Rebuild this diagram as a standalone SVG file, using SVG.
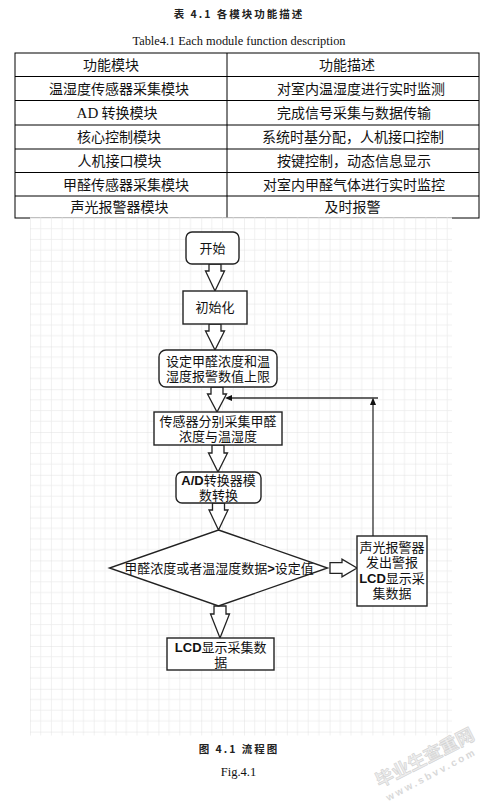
<svg xmlns="http://www.w3.org/2000/svg" width="492" height="806" viewBox="0 0 492 806">
<style>
.cap{font-family:"Noto Sans CJK SC","Noto Sans",sans-serif;font-weight:bold;font-size:10.5px;fill:#222;letter-spacing:2px}
.ser{font-family:"Liberation Serif","Times New Roman",serif;fill:#111}
.tb{font-family:"Noto Sans CJK SC","Noto Sans",sans-serif;font-size:14px;fill:#111;text-anchor:middle}
.tl{stroke:#000;stroke-width:1;fill:none}
.nd{fill:#fff;stroke:#222;stroke-width:1.4}
.nt{font-family:"Liberation Sans","Noto Sans CJK SC",sans-serif;font-size:13px;fill:#111;text-anchor:middle}
.b{font-family:"Liberation Sans",Arial,sans-serif;font-weight:bold}
.ba{fill:#fff;stroke:#222;stroke-width:1.3;stroke-linejoin:miter}
.ln{stroke:#333;stroke-width:1.3;fill:none}
.ah{fill:#111}
.wm{font-family:"Noto Sans CJK SC",sans-serif;font-weight:bold;fill:#ededed;stroke:#d2d2d2;stroke-width:0.6}
</style>
<defs>
<pattern id="grid" x="30" y="218" width="42.8" height="42.8" patternUnits="userSpaceOnUse">
<path d="M10.7 0V42.8M21.4 0V42.8M32.1 0V42.8M0 10.7H42.8M0 21.4H42.8M0 32.1H42.8" stroke="#ececec" stroke-width="0.8" fill="none"/>
<path d="M0 0V42.8M0 0H42.8" stroke="#dedede" stroke-width="0.9" fill="none"/>
</pattern>
</defs>
<rect width="492" height="806" fill="#fff"/>

<!-- captions -->
<text class="cap" x="239" y="18" text-anchor="middle">表 4.1 各模块功能描述</text>
<text class="ser" x="239" y="45" font-size="12.5" text-anchor="middle" textLength="213" lengthAdjust="spacingAndGlyphs">Table4.1 Each module function description</text>

<!-- table -->
<g id="table">
<rect class="tl" x="15" y="53" width="464" height="165"/>
<path class="tl" d="M227 53V218M15 76.5H479M15 100.5H479M15 125H479M15 149H479M15 172.5H479M15 196H479"/>
<text class="tb" x="111" y="70">功能模块</text>
<text class="tb" x="347" y="70">功能描述</text>
<text class="tb" x="119" y="94">温湿度传感器采集模块</text>
<text class="tb" x="361" y="94">对室内温湿度进行实时监测</text>
<text class="tb" x="117" y="118"><tspan font-family="Liberation Serif,serif" font-size="15">AD</tspan> 转换模块</text>
<text class="tb" x="354" y="118">完成信号采集与数据传输</text>
<text class="tb" x="119" y="142">核心控制模块</text>
<text class="tb" x="353" y="142">系统时基分配，人机接口控制</text>
<text class="tb" x="119.5" y="166">人机接口模块</text>
<text class="tb" x="354" y="166">按键控制，动态信息显示</text>
<text class="tb" x="126" y="189.5">甲醛传感器采集模块</text>
<text class="tb" x="354" y="189.5">对室内甲醛气体进行实时监控</text>
<text class="tb" x="119.5" y="212">声光报警器模块</text>
<text class="tb" x="352.5" y="212">及时报警</text>
</g>

<!-- flowchart background -->
<rect x="30" y="217.5" width="422" height="518" fill="#fff"/>
<rect x="30" y="217.5" width="422" height="518" fill="url(#grid)"/>

<g id="connectors">
<path class="ba" d="M209 264H221V271H224.5L215 291L205.5 271H209Z"/>
<path class="ba" d="M209 324H221V331H224.5L215 350L205.5 331H209Z"/>
<path class="ba" d="M211 387H223V394H226.5L217 412L207.5 394H211Z"/>
<path class="ba" d="M212 445H224V453H227.5L218 472L208.5 453H212Z"/>
<path class="ba" d="M212.5 503H224.5V510H228L218.5 530L209 510H212.5Z"/>
<path class="ba" d="M214 606H226V614H229.5L220 638L210.5 614H214Z"/>
<path class="ba" d="M330 562.7H342V559.2L357 568L342 576.8V573.3H330Z"/>
<path class="ln" d="M373 536V404"/>
<path class="ah" d="M373 397.5L376 405H370Z"/>
<path class="ln" d="M378 398H231"/>
<path class="ah" d="M225 398L232 395V401Z"/>
</g>

<g id="start">
<rect class="nd" x="186" y="232" width="53" height="32" rx="6"/>
<text class="nt" x="212.5" y="252.5">开始</text>
</g>
<g id="init">
<rect class="nd" x="183" y="291" width="64" height="33"/>
<text class="nt" x="215" y="312">初始化</text>
</g>
<g id="setlimit">
<rect class="nd" x="159" y="350" width="118" height="37" rx="7"/>
<text class="nt" x="218" y="366.2">设定甲醛浓度和温</text>
<text class="nt" x="218" y="381">湿度报警数值上限</text>
</g>
<g id="sensor">
<rect class="nd" x="154" y="412" width="128" height="33"/>
<text class="nt" x="218" y="426.2">传感器分别采集甲醛</text>
<text class="nt" x="218" y="441">浓度与温湿度</text>
</g>
<g id="adc">
<rect class="nd" x="176" y="472" width="85" height="31" rx="6"/>
<text class="nt" x="218.5" y="484.5"><tspan class="b">A/D</tspan>转换器模</text>
<text class="nt" x="218.5" y="499.5">数转换</text>
</g>
<g id="decision">
<path class="nd" d="M218.5 530L327.5 568L218.5 606L109.5 568Z"/>
<text class="nt" x="219" y="572.7">甲醛浓度或者温湿度数据<tspan class="b">&gt;</tspan>设定值</text>
</g>
<g id="alarm">
<rect class="nd" x="357" y="536" width="70" height="70"/>
<text class="nt" x="392" y="552">声光报警器</text>
<text class="nt" x="392" y="567">发出警报</text>
<text class="nt" x="392" y="582.5"><tspan class="b">LCD</tspan>显示采</text>
<text class="nt" x="392" y="598">集数据</text>
</g>
<g id="lcd">
<rect class="nd" x="167" y="638" width="107" height="32"/>
<text class="nt" x="220.7" y="652"><tspan class="b">LCD</tspan>显示采集数</text>
<text class="nt" x="220.7" y="666.8">据</text>
</g>

<!-- figure captions -->
<text class="cap" x="239" y="753" text-anchor="middle" font-size="11">图 4.1 流程图</text>
<text class="ser" x="238.5" y="776" font-size="12.5" text-anchor="middle">Fig.4.1</text>

<!-- watermark -->
<g transform="translate(425 758) rotate(-27)">
<text class="wm" x="0" y="6" font-size="18" text-anchor="middle">毕业生查重网</text>
</g>
<g transform="translate(431 774) rotate(-28)">
<text x="0" y="4" font-family="Liberation Sans,sans-serif" font-size="10" font-weight="bold" letter-spacing="2.5" fill="#d8d8d8" text-anchor="middle">www.sbvv.com</text>
</g>
</svg>
